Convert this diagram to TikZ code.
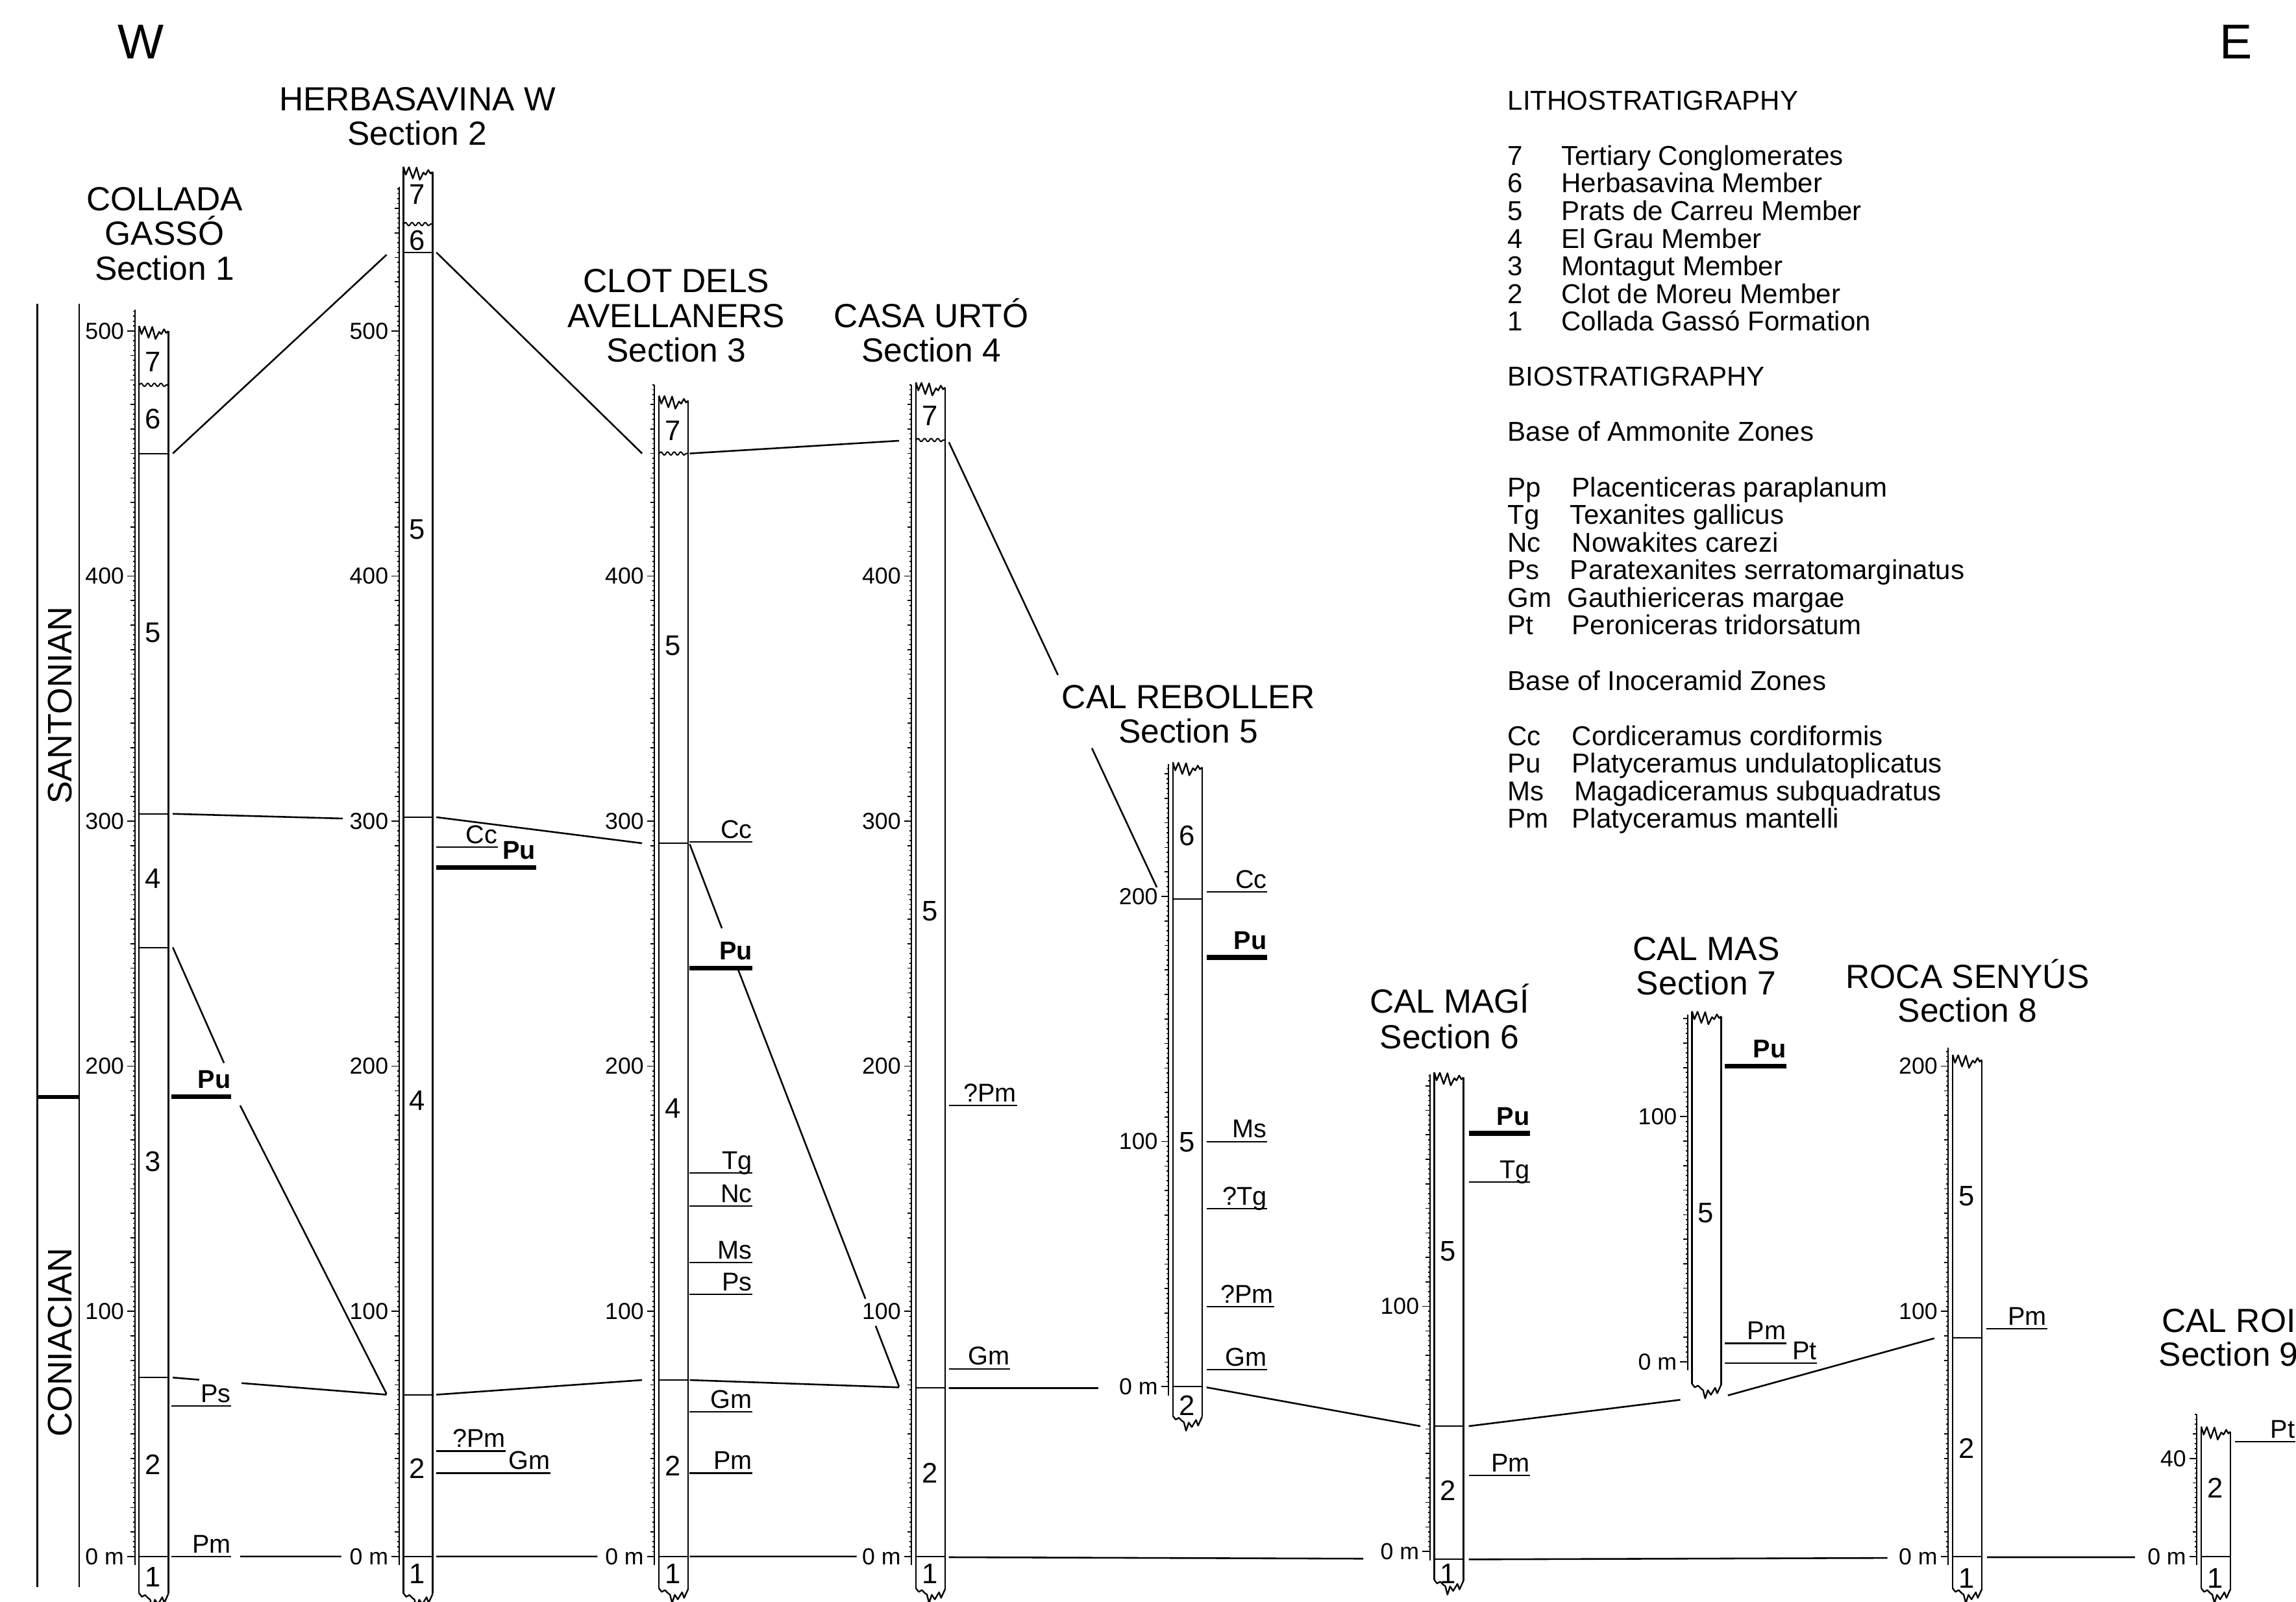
\documentclass[tikz,border=0pt]{standalone}
\usepackage{fontspec}
\setmainfont{Liberation Sans}
\usetikzlibrary{decorations.pathmorphing}

\tikzset{
  col/.style={line width=0.6pt},
  bnd/.style={line width=0.5pt},
  unc/.style={line width=0.5pt, decorate,
    decoration={snake, segment length=0.9mm, amplitude=0.22mm}},
  axln/.style={line width=0.5pt},
  tck/.style={line width=0.4pt},
  corr/.style={line width=0.65pt},
  foss/.style={line width=0.55pt},
  fossb/.style={line width=1.8pt},
  num/.style={font=\fontsize{9}{9}\selectfont, inner sep=0pt},
  unit/.style={font=\fontsize{11}{11}\selectfont, inner sep=0pt},
  ftxt/.style={font=\fontsize{10}{10}\selectfont, inner sep=0pt,
    anchor=base east, yshift=0.5mm},
  ftxtb/.style={ftxt, font=\fontsize{10}{10}\selectfont\bfseries, yshift=0.65mm},
  ttl/.style={font=\fontsize{13}{13}\selectfont, inner sep=0pt, anchor=base},
  leg/.style={font=\fontsize{10.6}{10.6}\selectfont, inner sep=0pt, anchor=base west},
  brktop/.pic={\draw[col, x=0.2mm, y=-0.2mm] (0,0) -- (1.6,5.5) -- (3.8,0.3)
    -- (6.4,8) -- (9,0.6) -- (11.2,8.9) -- (13.7,4) -- (15.2,5.5) -- (17,2.2)
    -- (18.5,4.7) -- (20,3.5);},
  brkbot/.pic={\draw[col, x=0.2mm, y=-0.2mm] (0,0) -- (1.9,2.4) -- (4.1,1.2)
    -- (6.3,3.4) -- (7.5,4.2) -- (9,10) -- (10.8,4.4) -- (12.9,7.5) -- (15.8,2.7)
    -- (17.2,6.5) -- (20,0.4);},
}

% scale bar beside a column: id, axis top, last tick, labelled heights (m)
\newcommand\straxis[4]{%
  \draw[axln] (-3,-3.6) -- (-3,#2);
  \foreach \h in {0,2,...,#3} \draw[tck] (-3,\h) -- ++(-1.3,0);
  \foreach \h in {0,10,...,#3} \draw[tck] (-3,\h) -- ++(-2.8,0);
  \draw[tck] (-3,0) -- ++(-5,0);
  \node[num, anchor=east] (#1-0) at (-10,0) {0 m};
  \foreach \h in {#4} {
    \draw[tck] (-3,\h) -- ++(-5,0);
    \node[num, anchor=east] (#1-\h) at (-10,\h) {\h};
  }
}
% column outline with broken top and base: top, bottom (m)
\newcommand\strcol[2]{%
  \draw[col] (0,#1) -- (0,#2) (20,#1-2.1) -- (20,#2-0.2);
  \pic at (0,#1) {brktop};
  \pic at (0,#2) {brkbot};
}
% zone base: name, x from, x to, height, label
\newcommand\foss[5]{%
  \draw[foss] (#2,#4) -- (#3,#4);
  \node[ftxt] (#1) at (#3,#4) {#5};
}
\newcommand\fossb[5]{%
  \draw[fossb] (#2,#4) -- (#3,#4);
  \node[ftxtb] (#1) at (#3,#4) {#5};
}

\begin{document}
\begin{tikzpicture}[x=0.2mm, y=-0.2mm, line join=round]
  \useasboundingbox (0,0) rectangle (1568,1094);

  \node[font=\fontsize{19}{19}\selectfont, inner sep=0pt] (west) at (96,28.5) {W};
  \node[font=\fontsize{19}{19}\selectfont, inner sep=0pt] (east) at (1527,28.5) {E};

  % stages
  \draw[col] (25.5,207.6) -- (25.5,1084) (54,207.6) -- (54,1084);
  \draw[line width=1.5pt] (25.5,749) -- (54,749);
  \node[font=\fontsize{13.2}{13.2}\selectfont, rotate=90, inner sep=0pt] (sant) at (41,481.8) {SANTONIAN};
  \node[font=\fontsize{13.2}{13.2}\selectfont, rotate=90, inner sep=0pt] (coni) at (41,916.8) {CONIACIAN};

  % titles
  \node[ttl] (t1a) at (112.4,144) {COLLADA};
  \node[ttl] (t1b) at (112.4,167.5) {GASSÓ};
  \node[ttl] (t1c) at (112.4,191.1) {Section 1};
  \node[ttl] (t2a) at (285,75.6) {HERBASAVINA W};
  \node[ttl] (t2b) at (285,99.3) {Section 2};
  \node[ttl] (t3a) at (461.9,199.9) {CLOT DELS};
  \node[ttl] (t3b) at (461.9,223.8) {AVELLANERS};
  \node[ttl] (t3c) at (461.9,247.3) {Section 3};
  \node[ttl] (t4a) at (636,223.5) {CASA URTÓ};
  \node[ttl] (t4b) at (636,247.3) {Section 4};
  \node[ttl] (t5a) at (811.5,483.7) {CAL REBOLLER};
  \node[ttl] (t5b) at (811.5,507.2) {Section 5};
  \node[ttl] (t6a) at (990,692) {CAL MAGÍ};
  \node[ttl] (t6b) at (990,716) {Section 6};
  \node[ttl] (t7a) at (1165.2,656) {CAL MAS};
  \node[ttl] (t7b) at (1165.2,679.4) {Section 7};
  \node[ttl] (t8a) at (1343.7,674.9) {ROCA SENYÚS};
  \node[ttl] (t8b) at (1343.7,698) {Section 8};
  \node[ttl, anchor=base west] (t9a) at (1476,909.9) {CAL ROI};
  \node[ttl, anchor=base west] (t9b) at (1474,933) {Section 9};

  % legend
  \foreach \r/\hd in {0/LITHOSTRATIGRAPHY, 10/BIOSTRATIGRAPHY,
      12/Base of Ammonite Zones, 21/Base of Inoceramid Zones}
    \node[leg] (lh\r) at (1029.3,75+18.87*\r) {\hd};
  \foreach \r/\ab/\nm/\dx in {2/7/Tertiary Conglomerates/36.7,
      3/6/Herbasavina Member/36.7, 4/5/Prats de Carreu Member/36.7,
      5/4/El Grau Member/36.7, 6/3/Montagut Member/36.7,
      7/2/Clot de Moreu Member/36.7, 8/1/Collada Gassó Formation/36.7,
      14/Pp/Placenticeras paraplanum/44, 15/Tg/Texanites gallicus/42.7,
      16/Nc/Nowakites carezi/44, 17/Ps/Paratexanites serratomarginatus/42.7,
      18/Gm/Gauthiericeras margae/40.7, 19/Pt/Peroniceras tridorsatum/44,
      23/Cc/Cordiceramus cordiformis/44, 24/Pu/Platyceramus undulatoplicatus/44,
      25/Ms/Magadiceramus subquadratus/45.7, 26/Pm/Platyceramus mantelli/44} {
    \node[leg] (la\r) at (1029.3,75+18.87*\r) {\ab};
    \node[leg] (lb\r) at (1029.3+\dx,75+18.87*\r) {\nm};
  }

  % Section 1 Collada Gassó
  \begin{scope}[shift={(95,1063)}, y=0.3348mm]
    \straxis{s1}{508.7}{508}{100,200,300,400,500}
    \strcol{502}{-15}
    \draw[unc] (0,478) -- (20,478);
    \foreach \h in {450,303,248.5,73,0} \draw[bnd] (0,\h) -- (20,\h);
    \foreach \u/\h in {7/487.5,6/464,5/377,4/276.6,3/161,2/37.6,1/-8.4}
      \node[unit] (s1u\u) at (9.5,\h) {\u};
    \fossb{s1pu}{22}{63}{187.6}{Pu}
    \foss{s1ps}{22}{63}{61.5}{Ps}
    \foss{s1pm}{22}{63}{0}{Pm}
  \end{scope}

  % Section 2 Herbasavina W
  \begin{scope}[shift={(275.5,1063)}, y=0.3348mm]
    \straxis{s2}{558.8}{558}{100,200,300,400,500}
    \strcol{567}{-15}
    \draw[unc] (0,543.6) -- (20,543.6);
    \foreach \h in {532,301.6,66,0} \draw[bnd] (0,\h) -- (20,\h);
    \foreach \u/\h in {7/555.6,6/537,5/419,4/186,2/36,1/-7}
      \node[unit] (s2u\u) at (9.5,\h) {\u};
    \foss{s2cc}{22.5}{64.5}{289.4}{Cc}
    \fossb{s2pu}{22.5}{90.5}{281}{Pu}
    \foss{s2pm}{22.5}{70}{43}{?Pm}
    \foss{s2gm}{22.5}{100.5}{34}{Gm}
  \end{scope}

  % Section 3 Clot dels Avellaners
  \begin{scope}[shift={(450,1063)}, y=0.3348mm]
    \straxis{s3}{478}{478}{100,200,300,400}
    \strcol{473.6}{-13}
    \draw[unc] (0,450) -- (20,450);
    \foreach \h in {291,72,0} \draw[bnd] (0,\h) -- (20,\h);
    \foreach \u/\h in {7/459.4,5/371.6,4/182.8,2/37,1/-7}
      \node[unit] (s3u\u) at (9.5,\h) {\u};
    \foss{s3cc}{21}{64}{291.5}{Cc}
    \fossb{s3pu}{21}{64}{240}{Pu}
    \foss{s3tg}{21}{64}{156.5}{Tg}
    \foss{s3nc}{21}{64}{143}{Nc}
    \foss{s3ms}{21}{64}{120}{Ms}
    \foss{s3ps}{21}{64}{107}{Ps}
    \foss{s3gm}{21}{64}{59}{Gm}
    \foss{s3pm}{21}{64}{34}{Pm}
  \end{scope}

  % Section 4 Casa Urtó
  \begin{scope}[shift={(625.5,1063)}, y=0.3348mm]
    \straxis{s4}{478}{478}{100,200,300,400}
    \strcol{479}{-13}
    \draw[unc] (0,455.5) -- (20,455.5);
    \foreach \h in {68.7,0} \draw[bnd] (0,\h) -- (20,\h);
    \foreach \u/\h in {7/465.5,5/263.4,2/34,1/-7}
      \node[unit] (s4u\u) at (9.5,\h) {\u};
    \foss{s4pm}{22.5}{69}{184}{?Pm}
    \foss{s4gm}{22.5}{64.5}{76.6}{Gm}
  \end{scope}

  % Section 5 Cal Reboller
  \begin{scope}[shift={(801,947)}, y=0.3348mm]
    \straxis{s5}{253.9}{252}{100,200}
    \strcol{254.7}{-12}
    \foreach \h in {198.9,0} \draw[bnd] (0,\h) -- (20,\h);
    \foreach \u/\h in {6/224.8,5/99.8,2/-7.8}
      \node[unit] (s5u\u) at (9.5,\h) {\u};
    \foss{s5cc}{23}{64.5}{201.9}{Cc}
    \fossb{s5pu}{23}{64.5}{175.1}{Pu}
    \foss{s5ms}{23}{64.5}{100}{Ms}
    \foss{s5tg}{23}{64.5}{72.6}{?Tg}
    \foss{s5pm}{23}{69}{32.6}{?Pm}
    \foss{s5gm}{23}{64.5}{7}{Gm}
  \end{scope}

  % Section 6 Cal Magí
  \begin{scope}[shift={(979.5,1059.6)}, y=0.3348mm]
    \straxis{s6}{194.7}{194}{100}
    \strcol{195.5}{-11.6}
    \foreach \h in {51.1,-3.2} \draw[bnd] (0,\h) -- (20,\h);
    \foreach \u/\h in {5/122.5,2/25,1/-9}
      \node[unit] (s6u\u) at (9.5,\h) {\u};
    \fossb{s6pu}{23.5}{65.5}{170.6}{Pu}
    \foss{s6tg}{23.5}{65.5}{150.7}{Tg}
    \foss{s6pm}{23.5}{65.5}{31}{Pm}
  \end{scope}

  % Section 7 Cal Mas
  \begin{scope}[shift={(1155.5,930)}, y=0.3348mm]
    \straxis{s7}{141.6}{140}{100}
    \strcol{143}{-9}
    \node[unit] (s7u5) at (9.5,60.7) {5};
    \fossb{s7pu}{22.5}{64.5}{120.7}{Pu}
    \foss{s7pm}{22.5}{64.5}{7.5}{Pm}
    \foss{s7pt}{22.5}{85.5}{-0.6}{Pt}
  \end{scope}

  % Section 8 Roca Senyús
  \begin{scope}[shift={(1333.5,1063)}, y=0.3348mm]
    \straxis{s8}{207.5}{206}{100,200}
    \strcol{204.7}{-13}
    \foreach \h in {89.3,0} \draw[bnd] (0,\h) -- (20,\h);
    \foreach \u/\h in {5/147,2/44,1/-9}
      \node[unit] (s8u\u) at (9.5,\h) {\u};
    \foss{s8pm}{23}{64.5}{93}{Pm}
  \end{scope}

  % Section 9
  \begin{scope}[shift={(1503.3,1063)}, y=0.3348mm]
    \straxis{s9}{58}{58}{40}
    \strcol{53}{-13}
    \draw[bnd] (0,0) -- (20,0);
    \foreach \u/\h in {2/28,1/-9}
      \node[unit] (s9u\u) at (9.5,\h) {\u};
    \foss{s9pt}{23.2}{64.2}{46.9}{Pt}
  \end{scope}

  % correlation ties
  \coordinate (k1a) at (118,309.7);   \coordinate (k1b) at (264,174);
  \coordinate (k2a) at (298,172.4);   \coordinate (k2b) at (438.5,309.7);
  \coordinate (k3a) at (471,309.7);   \coordinate (k3b) at (614,301);
  \coordinate (k4a) at (648,302);     \coordinate (k4b) at (722.5,461);
  \coordinate (k4c) at (745.7,511);   \coordinate (k4d) at (790,606);
  \coordinate (k5a) at (118,555.8);   \coordinate (k5b) at (234,559);
  \coordinate (k6a) at (298,558.1);   \coordinate (k6b) at (438.5,575.9);
  \coordinate (k7a) at (471,576.5);   \coordinate (k7b) at (493,634);
  \coordinate (k7c) at (504,662);     \coordinate (k7d) at (591,887);
  \coordinate (k7e) at (598,905.5);   \coordinate (k7f) at (614,947);
  \coordinate (k8a) at (118,647);     \coordinate (k8b) at (153,726);
  \coordinate (k8c) at (164,755);     \coordinate (k8d) at (264,952);
  \coordinate (k9a) at (118,940.8);   \coordinate (k9b) at (136,942.3);
  \coordinate (k9c) at (165,944.6);   \coordinate (k9d) at (264,952.5);
  \coordinate (k10a) at (298,952.5);  \coordinate (k10b) at (438.5,942.5);
  \coordinate (k11a) at (471,942.5);  \coordinate (k11b) at (614,947.5);
  \coordinate (k12a) at (648,948);    \coordinate (k12b) at (750,948);
  \coordinate (k13a) at (824,947.5);  \coordinate (k13b) at (970,974);
  \coordinate (k14a) at (1003,974);   \coordinate (k14b) at (1147.5,956);
  \coordinate (k15a) at (1180,953);   \coordinate (k15b) at (1321,914);
  \draw[corr] (k1a) -- (k1b) (k2a) -- (k2b) (k3a) -- (k3b)
    (k4a) -- (k4b) (k4c) -- (k4d) (k5a) -- (k5b) (k6a) -- (k6b)
    (k7a) -- (k7b) (k7c) -- (k7d) (k7e) -- (k7f)
    (k8a) -- (k8b) (k8c) -- (k8d) (k9a) -- (k9b) (k9c) -- (k9d)
    (k10a) -- (k10b) (k11a) -- (k11b) (k12a) -- (k12b)
    (k13a) -- (k13b) (k14a) -- (k14b) (k15a) -- (k15b);

  % 0 m datum
  \coordinate (z1a) at (164,1063);    \coordinate (z1b) at (233,1063);
  \coordinate (z2a) at (298,1063);    \coordinate (z2b) at (408,1063);
  \coordinate (z3a) at (471,1063);    \coordinate (z3b) at (585,1063);
  \coordinate (z4a) at (648,1063.5);  \coordinate (z4b) at (931,1064.5);
  \coordinate (z5a) at (1003,1065);   \coordinate (z5b) at (1289,1064);
  \coordinate (z6a) at (1357,1063.5); \coordinate (z6b) at (1458,1063.5);
  \draw[corr] (z1a) -- (z1b) (z2a) -- (z2b) (z3a) -- (z3b)
    (z4a) -- (z4b) (z5a) -- (z5b) (z6a) -- (z6b);
\end{tikzpicture}
\end{document}
